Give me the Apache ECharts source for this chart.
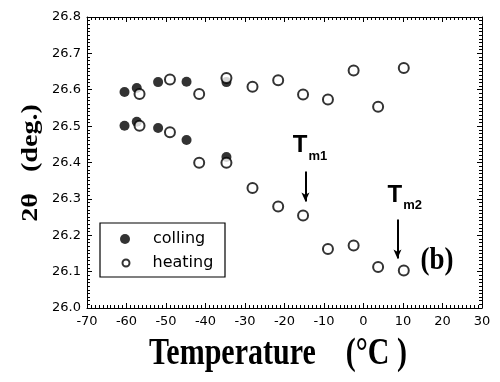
<!DOCTYPE html>
<html><head><meta charset="utf-8">
<script src="https://cdn.jsdelivr.net/npm/echarts@6/dist/echarts.min.js"></script>
<style>html,body{margin:0;padding:0;background:#fff}#c{width:500px;height:382px}</style>
</head><body><div id="c"></div>
<script>
// ---- data ----
const collingX = [-60.5, -57.4, -52.0, -44.8, -34.7];
const collingUpper = [26.594, 26.605, 26.621, 26.622, 26.621];
const collingLower = [26.501, 26.512, 26.495, 26.462, 26.415];
const heatingX = [-56.7, -49.0, -41.6, -34.7, -28.1, -21.6, -15.3, -9.0, -2.5, 3.7, 10.2];
const heatingUpper = [26.588, 26.628, 26.588, 26.632, 26.608, 26.626, 26.587, 26.573, 26.653, 26.553, 26.660];
const heatingLower = [26.501, 26.483, 26.399, 26.399, 26.330, 26.279, 26.254, 26.162, 26.172, 26.113, 26.103];
const xRange = [-70, 30];
const yRange = [26.0, 26.8];
const tm1Arrow = [[-14.7, 26.375], [-14.7, 26.293]];
const tm2Arrow = [[8.6, 26.243], [8.6, 26.136]];
const tm1Label = [-17.9, 26.413];
const tm2Label = [6.1, 26.278];
const panelLabel = [18.6, 26.13];

const collingData = collingX.map((x,i)=>[x, collingUpper[i]]).concat(collingX.map((x,i)=>[x, collingLower[i]]));
const heatingData = heatingX.map((x,i)=>[x, heatingUpper[i]]).concat(heatingX.map((x,i)=>[x, heatingLower[i]]));

const tickFont = {color:'#000', fontFamily:'DejaVu Sans', fontSize:13};
function xAxisDef(pos, showLabel){
  return {type:'value', position:pos, min:xRange[0], max:xRange[1], interval:10,
    axisLine:{show:true, onZero:false, lineStyle:{color:'#000', width:1}},
    axisTick:{show:true, inside:true, length:5, lineStyle:{color:'#000'}},
    minorTick:{show:true, splitNumber:10, length:3, lineStyle:{color:'#000'}},
    splitLine:{show:false},
    axisLabel:Object.assign({show:showLabel, margin:7}, tickFont)};
}
function yAxisDef(pos, showLabel){
  return {type:'value', position:pos, min:yRange[0], max:yRange[1], interval:0.1,
    axisLine:{show:true, onZero:false, lineStyle:{color:'#000', width:1}},
    axisTick:{show:true, inside:true, length:5, lineStyle:{color:'#000'}},
    minorTick:{show:true, splitNumber:10, length:3, lineStyle:{color:'#000'}},
    splitLine:{show:false},
    axisLabel:Object.assign({show:showLabel, margin:6, formatter:v=>v.toFixed(1)}, tickFont)};
}

const chart = echarts.init(document.getElementById('c'), null, {renderer:'canvas'});
const arrowLine = (pts,w)=>({
  silent:true, symbol:['none','arrow'], symbolSize:[6,9], animation:false,
  lineStyle:{color:'#000', width:w, type:'solid'}, label:{show:false},
  data:[[{coord:pts[0]},{coord:pts[1]}]]
});
const legendText = pad => ({color:'#000', fontFamily:'DejaVu Sans', fontSize:16, lineHeight:16, padding:[0,0,0,pad]});
chart.setOption({
  animation:false,
  backgroundColor:'#fff',
  grid:{left:87, right:18, top:17, bottom:74},
  xAxis:[xAxisDef('bottom', true), xAxisDef('top', false)],
  yAxis:[yAxisDef('left', true), yAxisDef('right', false)],
  legend:[
    {left:120, top:231, orient:'vertical', itemWidth:10, itemHeight:10, padding:0,
     textStyle:legendText(18), data:[{name:'colling', icon:'circle'}]},
    {left:121.5, top:255, orient:'vertical', itemWidth:7, itemHeight:7, padding:0,
     textStyle:legendText(18), data:[{name:'heating', icon:'emptyCircle'}]}
  ],
  series:[
    {name:'colling', type:'scatter', symbol:'circle', symbolSize:10,
     itemStyle:{color:'#000'}, data:collingData, z:2},
    {name:'heating', type:'scatter', symbol:'emptyCircle', symbolSize:10,
     itemStyle:{color:'#000', borderColor:'#000', borderWidth:1.2}, data:heatingData, z:3,
     markLine:arrowLine(tm1Arrow, 2)},
    {name:'arrow2', type:'scatter', data:[], markLine:arrowLine(tm2Arrow, 2)}
  ]
});

const p1 = chart.convertToPixel({gridIndex:0}, tm1Label);
const p2 = chart.convertToPixel({gridIndex:0}, tm2Label);
const pb = chart.convertToPixel({gridIndex:0}, panelLabel);
const tmText = (p, sub)=>({
  type:'text', x:p[0], y:p[1], z:10,
  style:{text:'{t|T}{s|'+sub+'}', textAlign:'left', textVerticalAlign:'bottom',
    rich:{t:{fontFamily:'Liberation Sans', fontWeight:'bold', fontSize:24, fill:'#000', verticalAlign:'bottom'},
          s:{fontFamily:'Liberation Sans', fontWeight:'bold', fontSize:13, fill:'#000', verticalAlign:'bottom', padding:[0,0,-5,1]}}}
});
chart.setOption({
  graphic:[
    {type:'rect', z:1, shape:{x:100, y:223, width:125, height:54},
     style:{fill:'#fff', stroke:'#000', lineWidth:1.2}},
    tmText(p1,'m1'), tmText(p2,'m2'),
    {type:'text', x:pb[0], y:pb[1], scaleY:1.15, z:10,
     style:{text:'(b)', fill:'#000', font:'bold 27px "Liberation Serif"', textAlign:'center', textVerticalAlign:'middle'}},
    {type:'text', x:278, y:354, scaleY:1.25, z:10,
     style:{text:'Temperature    (°C )', fill:'#000', font:'bold 30px "Liberation Serif"', textAlign:'center', textVerticalAlign:'middle'}},
    {type:'text', x:31, y:163, rotation:Math.PI/2, scaleX:1.17, z:10,
     style:{text:'2θ   (deg.)', fill:'#000', font:'bold 24px "Liberation Serif"', textAlign:'center', textVerticalAlign:'middle'}}
  ]
});
</script></body></html>
